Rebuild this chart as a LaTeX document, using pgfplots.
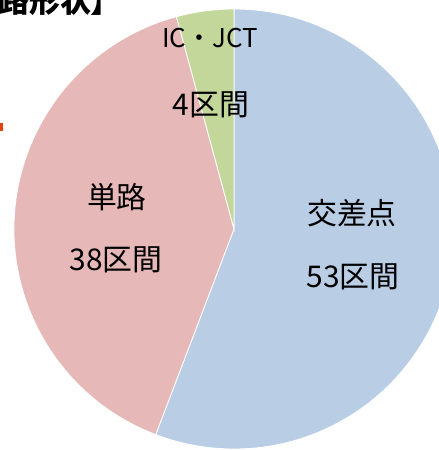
\documentclass[border=0pt]{standalone}
\usepackage{pgfplots}
\pgfplotsset{compat=1.18}
\usepackage{fontspec}
\setmainfont{Noto Sans CJK JP}
\definecolor{pieblue}{RGB}{185,205,229}
\definecolor{piepink}{RGB}{230,185,184}
\definecolor{piegreen}{RGB}{196,215,155}
\definecolor{markred}{RGB}{226,66,10}

\begin{document}
\begin{tikzpicture}
% picture frame, in pixels of the reference (1px = 1bp), pie centre at origin
\useasboundingbox (-234bp,-221bp) rectangle (205bp,229bp);
\clip (-234bp,-221bp) rectangle (205bp,229bp);
% slice values: 交差点 53, 単路 38, IC・JCT 4
\pgfmathsetmacro\tot{53+38+4}
\pgfmathsetmacro\aA{90-53/\tot*360}
\pgfmathsetmacro\aB{\aA-38/\tot*360}
\pgfmathsetmacro\aC{\aB-4/\tot*360}
\begin{axis}[
    anchor=origin, at={(0,0)},
    x=1bp, y=1bp,
    xmin=-225, xmax=225, ymin=-225, ymax=225,
    hide axis, clip=false,
]
\fill[pieblue, draw=white, line width=0.8bp] (axis cs:0,0) -- (axis cs:0,220)
    arc[start angle=90, end angle=\aA, radius=220bp] -- cycle;
\fill[piepink, draw=white, line width=0.8bp] (axis cs:0,0) -- ({220*cos(\aA)},{220*sin(\aA)})
    arc[start angle=\aA, end angle=\aB, radius=220bp] -- cycle;
\fill[piegreen, draw=white, line width=0.8bp] (axis cs:0,0) -- ({220*cos(\aB)},{220*sin(\aB)})
    arc[start angle=\aB, end angle=\aC, radius=220bp] -- cycle;

\begin{scope}[every node/.style={inner sep=0pt, font=\fontsize{30}{34}\selectfont}]
\node[font=\fontsize{26}{30}\selectfont] at (axis cs:-24,191) {IC・JCT};
\node at (axis cs:-23,124) {4区間};
\node at (axis cs:-117,32) {単路};
\node at (axis cs:-118,-31) {38区間};
\node at (axis cs:118,16) {交差点};
\node at (axis cs:119,-48) {53区間};
\end{scope}

\node[anchor=base east, inner sep=0pt, font=\fontsize{31}{34}\selectfont\bfseries]
    at (axis cs:-112,216) {【道路形状】};
\fill[markred] (axis cs:-240,98) rectangle (axis cs:-231,106);
\end{axis}
\end{tikzpicture}
\end{document}
